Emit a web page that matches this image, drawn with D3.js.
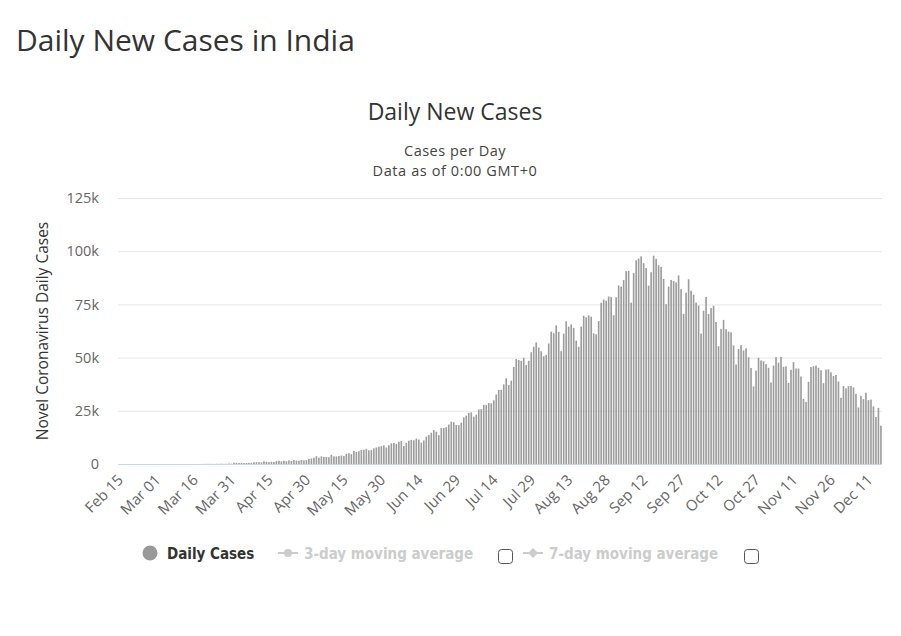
<!DOCTYPE html>
<html>
<head>
<meta charset="utf-8">
<script src="https://cdn.jsdelivr.net/npm/d3@7"></script>
<style>
  html, body { margin: 0; padding: 0; background: #fff; }
  svg { display: block; }
</style>
</head>
<body>
<svg id="chart" width="901" height="636"></svg>
<script>
// ---------- DATA ----------
const startDate = "2020-02-15";
// daily new cases, Feb 15 .. Dec 16 2020
const febCases = [0,0,0,0,0,0,0,0,0,0,0,0,0,0,0]; // Feb 15-29
const marCases = [0,2,1,22,2,1,3,5,4,13,6,11,9,20,11,6,23,14,38,50,86,66,103,37,121,70,160,100,112,227,146];
const aprCases = [601,545,478,578,505,489,573,565,813,871,854,758,1243,1031,886,1061,922,1371,1580,1239,1537,1292,1667,1408,1835,1607,1568,1902,1705,1801];
const mayCases = [2396,2564,2952,3656,2971,3602,3344,3339,3175,4311,3592,3562,3726,3991,3808,4794,5050,4628,6154,5720,6023,6536,6667,7111,6414,6566,7360,7761,8138,8364,8789];
const junCases = [7723,8812,9689,9849,9472,10438,10864,8442,9981,10956,11306,11156,11929,11502,10032,11086,12881,13586,14721,15915,15183,13540,16868,16922,17296,18552,19906,19620,18339,18256];
const julCases = [19428,21947,22718,24018,24248,22252,23135,25571,25790,27761,27755,28637,28498,29917,32682,34820,34884,37411,40243,37148,39170,45599,49310,48892,48472,49931,46484,48513,52509,55078,57118];
const augCases = [54735,52972,50629,51282,56626,62170,61455,65156,62117,53016,61252,67066,64553,65609,63986,57981,55079,64572,69672,68900,69876,69239,61408,60975,67151,75760,77266,76665,78761,78512,69921];
const sepCases = [78357,83883,83341,86432,90632,90802,75809,89706,95735,96551,97570,94372,92071,83809,90123,97894,96424,93337,92605,86961,75083,83347,86508,86052,85362,88600,82170,70589,80472,86821];
const octCases = [81484,79476,75829,74442,61267,72049,78524,70496,73272,74383,66732,55342,63509,67708,63371,62212,61871,55722,46790,54044,55839,53370,54366,50129,45148,36469,43893,49881,48648,48268,46963];
const novCases = [45231,38310,46253,50210,47638,50357,45674,45903,38073,44281,47905,44879,44878,41100,30548,29164,38617,45576,45882,46232,45209,44059,37975,44376,44489,43082,41322,41810,38772,31118];
const decCases = [36604,35551,36595,36652,36011,32981,26567,32080,30500,33500,30006,30254,27071,22065,26382,18000];

const yTicks = [0, 25000, 50000, 75000, 100000, 125000];
const labelEvery = 15;

const dailyCases = [].concat(febCases, marCases, aprCases, mayCases, junCases, julCases, augCases, sepCases, octCases, novCases, decCases);
const parseDate = d3.timeParse("%Y-%m-%d");
const dates = dailyCases.map((_, i) => d3.timeDay.offset(parseDate(startDate), i));
const fmtDate = d3.timeFormat("%b %d");
const categories = dates.map(fmtDate);

// ---------- LAYOUT ----------
const svg = d3.select("#chart");
const plotL = 118, plotR = 882, plotT = 198, plotB = 464;
const FONT = "'Open Sans', 'Noto Sans', sans-serif";
const LEG = "'Liberation Sans Narrow', 'DejaVu Sans Condensed', 'Roboto', sans-serif";

svg.append("text").attr("x", 16).attr("y", 51)
  .attr("font-family", FONT).attr("font-size", 30).attr("fill", "#333")
  .text("Daily New Cases in India");

svg.append("text").attr("x", 455).attr("y", 120).attr("text-anchor", "middle")
  .attr("font-family", FONT).attr("font-size", 23).attr("fill", "#333")
  .text("Daily New Cases");
svg.append("text").attr("x", 455).attr("y", 156).attr("text-anchor", "middle")
  .attr("font-family", FONT).attr("font-size", 14.5).attr("fill", "#444")
  .attr("letter-spacing", 0.5)
  .text("Cases per Day");
svg.append("text").attr("x", 455).attr("y", 176).attr("text-anchor", "middle")
  .attr("font-family", FONT).attr("font-size", 14.5).attr("fill", "#444")
  .attr("letter-spacing", 0.6)
  .text("Data as of 0:00 GMT+0");

const x = d3.scaleBand().domain(categories).range([plotL, plotR]).paddingInner(0.35).paddingOuter(0.1);
const y = d3.scaleLinear().domain([0, 125000]).range([plotB, plotT]);

// grid
const yAxis = d3.axisLeft(y).tickValues(yTicks).tickSize(-(plotR - plotL)).tickPadding(19)
  .tickFormat(d => d === 0 ? "0" : (d / 1000) + "k");
const gy = svg.append("g").attr("transform", `translate(${plotL},0)`).call(yAxis);
gy.select(".domain").remove();
gy.selectAll(".tick line").attr("stroke", "#e6e6e6");
gy.selectAll(".tick text").attr("font-family", FONT).attr("font-size", 14.5).attr("fill", "#666");

// bars
svg.append("g").selectAll("rect").data(dailyCases).join("rect")
  .attr("x", (d, i) => x(categories[i]))
  .attr("width", x.bandwidth())
  .attr("y", d => y(d))
  .attr("height", d => plotB - y(d))
  .attr("fill", "#9c9c9c");

// x axis
const xAxis = d3.axisBottom(x)
  .tickValues(categories.filter((_, i) => i % labelEvery === 0))
  .tickSize(0).tickPadding(0);
const gx = svg.append("g").attr("transform", `translate(0,${plotB})`).call(xAxis);
gx.select(".domain").attr("stroke", "#ccd6eb").attr("d", `M${plotL},0.5H${plotR}`);
gx.selectAll(".tick text")
  .attr("font-family", FONT).attr("font-size", 15).attr("fill", "#666")
  .attr("text-anchor", "end").attr("dy", null).attr("y", 0)
  .attr("transform", "translate(5,17) rotate(-45)");

// y-axis title
svg.append("text")
  .attr("transform", "translate(48,331) rotate(-90)")
  .attr("text-anchor", "middle")
  .attr("font-family", FONT).attr("font-size", 15.5).attr("fill", "#333")
  .text("Novel Coronavirus Daily Cases");

// legend
const lg = svg.append("g");
lg.append("circle").attr("cx", 150).attr("cy", 553).attr("r", 7.5).attr("fill", "#999");
lg.append("text").attr("x", 167).attr("y", 559).attr("font-family", LEG).attr("font-weight", "bold")
  .attr("font-size", 15).attr("fill", "#333").text("Daily Cases");

lg.append("line").attr("x1", 278).attr("x2", 298).attr("y1", 553).attr("y2", 553).attr("stroke", "#ccc").attr("stroke-width", 2);
lg.append("circle").attr("cx", 288).attr("cy", 553).attr("r", 4).attr("fill", "#ccc");
lg.append("text").attr("x", 304).attr("y", 559).attr("font-family", LEG).attr("font-weight", "bold")
  .attr("font-size", 15).attr("fill", "#ccc").text("3-day moving average");
lg.append("rect").attr("x", 498.5).attr("y", 549.5).attr("width", 14).attr("height", 14).attr("rx", 3)
  .attr("fill", "#fff").attr("stroke", "#555");

lg.append("line").attr("x1", 523).attr("x2", 543).attr("y1", 553).attr("y2", 553).attr("stroke", "#ccc").attr("stroke-width", 2);
lg.append("path").attr("d", "M533,548L538,553L533,558L528,553Z").attr("fill", "#ccc");
lg.append("text").attr("x", 549).attr("y", 559).attr("font-family", LEG).attr("font-weight", "bold")
  .attr("font-size", 15).attr("fill", "#ccc").text("7-day moving average");
lg.append("rect").attr("x", 744.5).attr("y", 549.5).attr("width", 14).attr("height", 14).attr("rx", 3)
  .attr("fill", "#fff").attr("stroke", "#555");
</script>
</body>
</html>
